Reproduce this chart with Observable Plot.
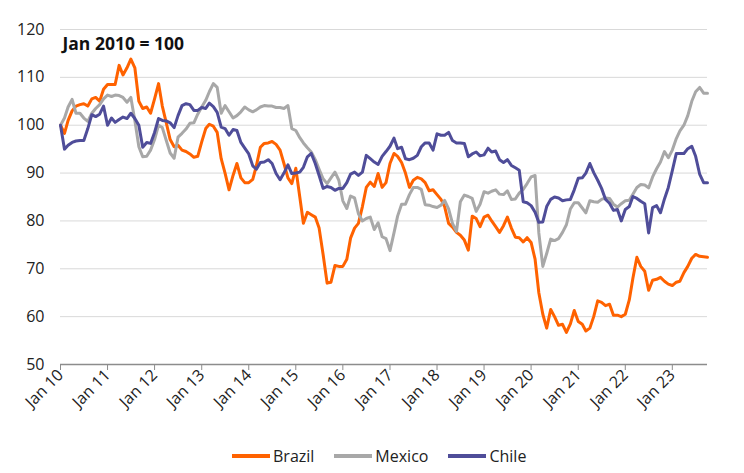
<!DOCTYPE html>
<html>
<head>
<meta charset="utf-8">
<script src="https://cdn.jsdelivr.net/npm/d3@7"></script>
<script src="https://cdn.jsdelivr.net/npm/@observablehq/plot@0.6"></script>
<style>
  html, body { margin: 0; padding: 0; background: #fff; }
  #wrap { position: relative; width: 744px; height: 473px; font-family: 'Open Sans', sans-serif; }
  #legend { position: absolute; top: 445px; left: 232px; display: flex; align-items: center; font-size: 16px; color: #222; }
  .item { display: flex; align-items: center; margin-right: 20px; }
  .sw { display: inline-block; width: 38px; height: 3.5px; margin-right: 3px; }
</style>
</head>
<body>
<div id="wrap"></div>
<script>
// Monthly index, Jan 2010 = 100 (Jan 2010 .. Oct 2023)
const startYear = 2010, startMonth = 0;
const brazil = [
  100, 98.3, 101, 103, 104, 104.3, 104.5, 104, 105.5, 105.8, 105, 107.5,
  108.5, 108.5, 108.5, 112.5, 110.5, 112, 113.8, 112, 105, 103.5, 103.8, 102.5,
  105.5, 108.7, 104, 100.5, 97, 95.5, 95.8, 94.8, 94.5, 94, 93.3, 93.5,
  96.5, 99.3, 100.2, 99.8, 98.5, 93, 90, 86.5, 89.5, 92, 89, 88,
  88, 88.7, 91.5, 95.4, 96.2, 96.3, 96.6, 96, 94.8, 92, 89, 87.8,
  91, 85, 79.5, 81.8, 81.3, 80.8, 78.5, 73, 67, 67.2, 70.7, 70.5,
  70.5, 72, 76.4, 78.5, 79.5, 83, 87, 88.1, 87.2, 89.9, 87, 88,
  92, 94.1, 93.5, 92.2, 90, 87, 88.5, 89.1, 88.8, 88, 86.3, 86.5,
  85.5, 84.5, 83, 79.5, 78.7, 77.6, 77, 76, 73.9, 81, 80.5, 78.8,
  80.8, 81.2, 80, 78.8, 77.6, 79, 80.8, 78.5, 76.6, 76.5, 75.6, 76.5,
  75.5, 72, 65, 60.5, 57.6, 61.5, 60, 58.2, 58.4, 56.7, 58.5, 61.3,
  59, 58.4, 57, 57.6, 60, 63.3, 63, 62.3, 62.6, 60.3, 60.3, 60,
  60.5, 63.5, 68, 72.4, 70.5, 69.5, 65.5, 67.6, 67.8, 68.2, 67.4, 66.8,
  66.5, 67.2, 67.4, 69.2, 70.5, 72.2, 73, 72.6, 72.5, 72.4
];
const mexico = [
  100, 101.5, 103.8, 105.4, 102.5, 102.5, 101.5, 100.8, 102.5, 103.5, 104.3, 105.5,
  106.3, 106, 106.3, 106.2, 105.8, 104.8, 105.8, 101, 95.5, 93.4, 93.5, 94.8,
  97, 100, 99.5, 96.8, 94.2, 93.1, 97.5, 98.3, 99.2, 100.4, 100.5, 102.3,
  103.8, 105.2, 107, 108.7, 107.9, 102.5, 104.1, 102.8, 101.5, 102, 102.8, 103.8,
  103.2, 102.8, 103.2, 103.8, 104.1, 104, 104, 103.7, 103.7, 103.5, 104.1, 99.3,
  98.9, 97.4, 96.3, 95.3, 94.4, 92.8, 90.8, 88.8, 87.8, 89, 90.2, 88.5,
  84.2, 82.6, 85.2, 84.8, 81.5, 80, 80.5, 80.8, 78.2, 79.6, 76.7, 76.3,
  73.8, 77.5, 81, 83.5, 83.5, 85.5, 87, 87, 86.6, 83.4, 83.3, 83,
  82.8, 83.3, 84.3, 82.5, 79.5, 77.8, 84, 85.4, 85.1, 84.7, 82, 83.5,
  86.1, 85.8, 86.2, 86.5, 85.6, 85.5, 86.3, 84.5, 84.6, 85.8, 86.6, 87.8,
  89.2, 89.5, 77.5, 70.5, 73.2, 76.2, 75.9, 76.3, 77.6, 79.2, 82.5, 83.8,
  83.8, 82.7, 81.7, 84.2, 84, 83.9, 84.5, 84.8, 84.7, 83.5, 82.9, 83.6,
  84.2, 84.3, 85.6, 87, 87.6, 87.5, 86.9, 89.2, 90.9, 92.3, 94.5, 93.2,
  94.8, 97.2, 98.8, 100, 102, 105, 107, 107.9, 106.7, 106.7
];
const chile = [
  100, 95, 95.8, 96.4, 96.7, 96.8, 96.8, 99.3, 102.2, 101.8, 102.3, 104,
  100, 101.5, 100.6, 101.2, 101.7, 101.4, 102.5, 101.4, 100, 95.4, 96.4, 96.2,
  98.5, 101.4, 101, 100.9, 100.5, 99.5, 102, 104.1, 104.5, 104.3, 103.1, 103.1,
  103.7, 103.5, 104.6, 103.9, 102.7, 99.6, 99.3, 97.9, 99.1, 98.9, 96.4, 95.2,
  94, 91.5, 90.8, 92.2, 92.3, 92.8, 92, 89.9, 88.6, 90, 91.7, 89.9,
  90, 90.2, 91.2, 93.4, 94.1, 92, 89.5, 86.8, 87.2, 87, 86.4, 86.8,
  86.8, 88, 89.8, 90.2, 89.5, 90.2, 93.7, 93, 92.3, 91.8, 93.5, 94.5,
  95.6, 97.3, 95.1, 95.4, 93, 92.8, 93.1, 93.7, 95.5, 96.3, 96.3, 94.8,
  98.2, 97.9, 97.9, 98.5, 96.8, 96.3, 96.3, 96.2, 93.4, 94, 94.4, 93.6,
  93.8, 95.2, 94.4, 94.6, 92.8, 92.2, 92.8, 91.6, 91.1, 90.6, 84, 83.8,
  83.2, 81.8, 79.7, 79.8, 83, 84.5, 85, 84.8, 84.2, 84.4, 84.5, 86.5,
  88.9, 89, 90, 92, 90.1, 88.5, 86.8, 84.5, 83.7, 82.2, 82.4, 80,
  82.4, 83, 85.1, 84.7, 84.1, 83.6, 77.5, 82.8, 83.2, 81.7, 84.6, 87,
  90.5, 94.1, 94.1, 94.1, 95.1, 95.6, 93.5, 89.8, 88, 88
];
const seriesNames = ["Brazil", "Mexico", "Chile"];
const seriesColors = ["#FF6200", "#A8A8A8", "#4F4D99"];
const yTicks = [50, 60, 70, 80, 90, 100, 110, 120];
const xTickYears = [2010, 2011, 2012, 2013, 2014, 2015, 2016, 2017, 2018, 2019, 2020, 2021, 2022, 2023];
const xTickLabels = ["Jan 10", "Jan 11", "Jan 12", "Jan 13", "Jan 14", "Jan 15", "Jan 16", "Jan 17", "Jan 18", "Jan 19", "Jan 20", "Jan 21", "Jan 22", "Jan 23"];
const titleText = "Jan 2010 = 100";

const monthDate = i => new Date(Date.UTC(startYear, startMonth + i, 1));
const values = [brazil, mexico, chile];
const rows = [];
values.forEach((arr, s) => arr.forEach((v, i) => rows.push({series: seriesNames[s], date: monthDate(i), value: v})));
const xTicks = xTickYears.map(y => new Date(Date.UTC(y, 0, 1)));
const labelOf = new Map(xTicks.map((d, i) => [+d, xTickLabels[i]]));

const chart = Plot.plot({
  width: 744,
  height: 440,
  marginLeft: 60,
  marginRight: 37,
  marginTop: 29,
  marginBottom: 76,
  style: {fontFamily: "'Open Sans', sans-serif", fontSize: "16px", color: "#222", background: "#fff"},
  x: {type: "utc", domain: [monthDate(0), monthDate(brazil.length - 1)]},
  y: {domain: [50, 120]},
  color: {domain: seriesNames, range: seriesColors},
  marks: [
    Plot.gridY(yTicks.filter(t => t > 50), {stroke: "#d9d9d9", strokeOpacity: 1, strokeWidth: 1}),
    Plot.axisY(yTicks, {tickSize: 0, tickPadding: 16, fontSize: 16, color: "#222", label: null}),
    Plot.ruleY([50], {stroke: "#8c8c8c", strokeWidth: 1.5}),
    Plot.axisX(xTicks, {tickSize: 6, tickPadding: 2, tickRotate: -45, stroke: "#8c8c8c", color: "#222", fontSize: 16,
      tickFormat: d => labelOf.get(+d), label: null}),
    Plot.line(rows, {x: "date", y: "value", z: "series", stroke: "series", strokeWidth: 3, strokeLinejoin: "round"}),
    Plot.text([titleText], {frameAnchor: "top-left", dx: 2, dy: 8, fontWeight: "bold", fontSize: 17.5, fill: "#111"})
  ]
});
document.getElementById("wrap").appendChild(chart);

const legend = document.createElement("div");
legend.id = "legend";
seriesNames.forEach((n, i) => {
  const it = document.createElement("div");
  it.className = "item";
  const sw = document.createElement("span");
  sw.className = "sw";
  sw.style.background = seriesColors[i];
  const tx = document.createElement("span");
  tx.textContent = n;
  it.appendChild(sw);
  it.appendChild(tx);
  legend.appendChild(it);
});
document.getElementById("wrap").appendChild(legend);
</script>
</body>
</html>
